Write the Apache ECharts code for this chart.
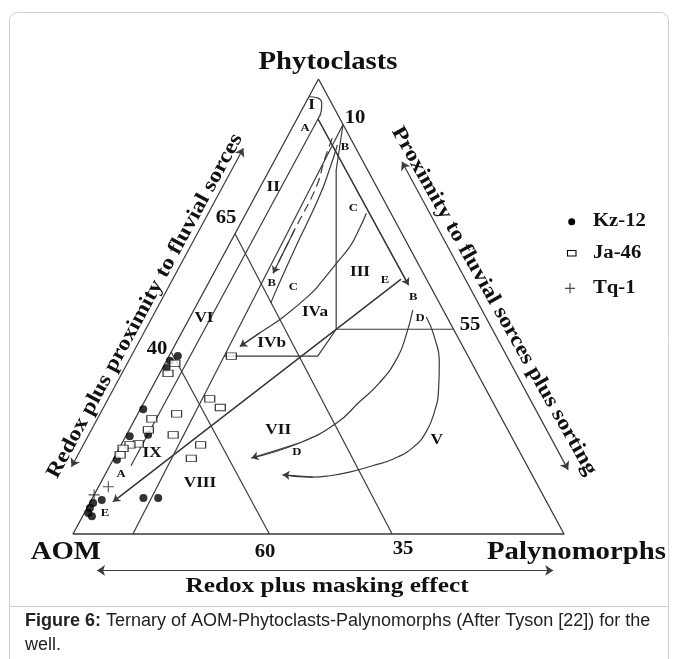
<!DOCTYPE html>
<html><head><meta charset="utf-8">
<script src="https://cdn.jsdelivr.net/npm/echarts@6/dist/echarts.min.js"></script>
<style>html,body{margin:0;padding:0;background:#fff}#c{width:678px;height:659px}</style>
</head><body><div id="c"></div>
<script>
// ---------- DATA ----------
// sample compositions [AOM, Phytoclasts, Palynomorphs] in %
const kz12 = [[59.1,39.1,1.8],[61.2,38.1,0.7],[62.7,36.5,0.8],[72.0,27.4,0.6],[77.7,21.5,0.8],[73.8,21.8,4.4],
  [82.9,16.3,0.8],[90.4,7.5,2.1],[92.5,6.8,0.7],[93.7,5.7,0.6],[94.6,4.6,0.8],[94.2,3.9,1.9],[81.7,7.9,10.4],[78.7,7.9,13.4]];
const ja46 = [[60.5,37.5,2.0],[63.0,35.3,1.7],[71.3,25.3,3.4],[73.2,22.9,3.9],[76.8,19.8,3.4],[78.6,19.6,1.8],
  [80.4,18.8,0.8],[81.7,17.4,0.9],[65.7,26.4,7.9],[68.7,21.8,9.5],[57.3,29.7,13.0],[56.1,27.8,16.1],
  [64.2,19.6,16.2],[67.6,16.6,15.8],[48.2,39.1,12.7]];
const tq1 = [[87.6,10.4,2.0],[91.4,8.6,0.0]];
const seriesNames = ['Kz-12','Ja-46','Tq-1'];

// field boundaries, as [Phytoclasts, Palynomorphs] % (AOM = remainder)
const outline = [[100,0],[0,0],[0,100],[100,0]];
const aom60 = [[40,0],[0,40]];
const aom35 = [[66,0],[0,65]];
const phy45 = [[45,55],[45,31.1]];
const vertical = [[90,10],[80,13.6],[45,31.1]];
const ivbEdge = [[45,31.1],[39.1,30.3],[39.1,11.2]];
const paly10 = [[90,10],[0,12.2]];
const lineA = [[91.2,4.3],[15.0,4.3]];
const fieldI = [[96.1,0],[95.8,2.0],[94.7,3.3],[93.2,4.0],[91.2,4.3]];
// trend arrows
const arrowB1 = [[91.2,4.3],[54.7,41.0]];
const arrowE = [[56.0,38.8],[7.1,4.6]];
const arrowC = [[70.5,24.5],[66.8,24.8],[63.1,24.8],[59.5,23.9],[55.4,22.9],[52.5,21.9],[47.6,18.9],[44.2,15.9],[41.2,13.4]];
const arrowBdash = [[87.0,9.3],[82.2,10.1],[76.3,11.4],[66.8,11.7],[57.3,12.1]];
const lineC = [[85.5,11.1],[80.0,12.2],[74.1,13.1],[63.1,13.8],[53.6,14.6],[50.8,14.9]];
const arrowD1 = [[49.2,44.6],[43.7,46.0],[38.7,46.7],[33.2,45.8],[29.0,43.8],[24.4,41.5],[20.0,36.1],[16.7,28.0]];
const arrowD2 = [[47.7,48.1],[43.5,51.8],[37.4,55.9],[31.7,58.6],[26.8,60.2],[22.4,60.7],[19.1,59.8],[16.5,57.0],
  [15.0,53.5],[13.6,49.5],[12.8,45.9],[12.5,42.6],[13.0,36.2]];
// side axis arrows (outside the triangle)
const sideLeft = [[14.8,-7.7],[84.8,-7.7]];
const sideRight = [[81.8,26.1],[14.1,93.8]];
const sideBottom = [[-8.0,8.9],[-8.0,101.8]];

// ---------- HELPERS ----------
const SERIF = '"Liberation Serif","Times New Roman",serif';
const SANS = '"Liberation Sans",Arial,sans-serif';
const INK = '#3a3a3a';
const pp = p => [p[1] + p[0] / 2, p[0]];          // [phyto, paly] -> cartesian
const tp = t => [t[2] + t[1] / 2, t[1]];          // [aom, phyto, paly] -> cartesian

function path(data, opt) {
  opt = opt || {};
  return {
    type: 'line', data: data.map(pp), showSymbol: false, symbol: 'none', smooth: !!opt.smooth,
    clip: false, silent: true, z: 2,
    lineStyle: { color: INK, width: opt.width || 1.2, type: opt.dashed ? [9, 5] : 'solid' }
  };
}
function head(data, both) {
  const n = data.length;
  return {
    type: 'lines', coordinateSystem: 'cartesian2d', silent: true, z: 3, clip: false,
    symbol: [both ? 'arrow' : 'none', 'arrow'], symbolSize: both ? 8 : 7,
    lineStyle: { color: INK, width: 1.2, opacity: 1 },
    data: [{ coords: [pp(data[n - 2]), pp(data[n - 1])] }]
  };
}

const series = [
  path(outline, { width: 1.3 }), path(aom60), path(aom35), path(phy45), path(vertical), path(ivbEdge),
  path(paly10), path(lineA), path(fieldI, { smooth: true }),
  path(arrowB1), head(arrowB1),
  path(arrowE), head(arrowE),
  path(arrowC, { smooth: true }), head(arrowC),
  path(arrowBdash, { smooth: true, dashed: true }), head(arrowBdash),
  path(lineC, { smooth: true }),
  path(arrowD1, { smooth: true }), head(arrowD1),
  path(arrowD2, { smooth: true }), head(arrowD2),
  head(sideLeft, true), head(sideRight, true), head(sideBottom, true),
  { type: 'scatter', name: seriesNames[0], data: kz12.map(tp), symbol: 'circle', symbolSize: 8,
    itemStyle: { color: '#000' }, z: 5, silent: true },
  { type: 'scatter', name: seriesNames[1], data: ja46.map(tp), symbol: 'rect', symbolSize: [10, 6.5],
    itemStyle: { color: '#fff', borderColor: '#000', borderWidth: 1 }, z: 5, silent: true },
  { type: 'scatter', name: seriesNames[2], data: tq1.map(tp),
    symbol: 'path://M4.5,0h1v4.5h4.5v1h-4.5v4.5h-1v-4.5h-4.5v-1h4.5z', symbolSize: 11,
    itemStyle: { color: '#222' }, z: 5, silent: true }
];

function txt(s, x, y, size, o) {
  o = o || {};
  return {
    type: 'text', x: x, y: y, rotation: o.rot || 0, scaleX: o.sx || 1.15, z: 10, silent: true,
    style: {
      text: s, fill: o.fill || '#111', font: (o.w || 'bold') + ' ' + size + 'px ' + (o.fam || SERIF),
      align: o.align || 'center', verticalAlign: 'middle', textAlign: o.align || 'center', textVerticalAlign: 'middle'
    }
  };
}

const g = [
  // frame
  { type: 'rect', shape: { x: 9.5, y: 12.5, width: 659, height: 700, r: 8 }, style: { fill: 'none', stroke: '#cfcfcf', lineWidth: 1 }, silent: true },
  { type: 'line', shape: { x1: 10, y1: 606.5, x2: 668, y2: 606.5 }, style: { stroke: '#cfcfcf', lineWidth: 1 }, silent: true },
  // corner labels
  txt('Phytoclasts', 328, 63, 25),
  txt('AOM', 101, 553, 25, { align: 'right' }),
  txt('Palynomorphs', 487, 553, 25, { align: 'left' }),
  txt('Redox plus masking effect', 327, 586, 22),
  txt('Redox plus proximity to fluvial sorces', 145, 306, 21, { rot: 61.5 * Math.PI / 180 }),
  txt('Proximity to fluvial sorces plus sorting', 494, 301, 21, { rot: -60.5 * Math.PI / 180 }),
  // scale numbers
  txt('10', 355, 118, 18), txt('65', 226, 218, 18), txt('40', 157, 349, 18),
  txt('55', 470, 325, 18), txt('60', 265, 552, 18), txt('35', 403, 549, 18),
  // fields
  txt('I', 311.7, 105, 15), txt('II', 273.3, 186.7, 15), txt('III', 360, 271.7, 15),
  txt('IVa', 315, 311.7, 15), txt('IVb', 271.7, 343.3, 15), txt('V', 436.7, 440, 15),
  txt('VI', 204, 318.3, 15), txt('VII', 278.3, 430, 15), txt('VIII', 200, 483.3, 15), txt('IX', 152, 453.3, 15),
  // trend letters
  txt('A', 305, 128.3, 11), txt('A', 121, 474, 11),
  txt('B', 345, 146.7, 11), txt('B', 271.7, 283.3, 11), txt('B', 413.3, 296.7, 11),
  txt('C', 353.3, 208.3, 11), txt('C', 293.3, 286.7, 11),
  txt('D', 420, 318.3, 11), txt('D', 296.7, 451.7, 11),
  txt('E', 385, 280, 11), txt('E', 105, 513.3, 11),
  // legend
  { type: 'circle', shape: { cx: 571.7, cy: 221.7, r: 3.5 }, style: { fill: '#000' }, silent: true },
  { type: 'rect', shape: { x: 567.5, y: 250.5, width: 8.5, height: 5.5 }, style: { fill: '#fff', stroke: '#000', lineWidth: 1.1 }, silent: true },
  { type: 'polyline', shape: { points: [[565, 288.3], [575, 288.3]] }, style: { stroke: '#333', lineWidth: 1.1 }, silent: true },
  { type: 'polyline', shape: { points: [[570, 283.3], [570, 293.3]] }, style: { stroke: '#333', lineWidth: 1.1 }, silent: true },
  txt(seriesNames[0], 593, 221.7, 18, { align: 'left' }),
  txt(seriesNames[1], 593, 253.3, 18, { align: 'left' }),
  txt(seriesNames[2], 593, 288.3, 18, { align: 'left' }),
  // caption
  { type: 'text', x: 25, y: 633, silent: true, style: {
      text: '{b|Figure 6:} Ternary of AOM-Phytoclasts-Palynomorphs (After Tyson [22]) for the\nwell.',
      font: '18px ' + SANS, fill: '#222', lineHeight: 24, align: 'left', verticalAlign: 'middle', textAlign: 'left', textVerticalAlign: 'middle',
      rich: { b: { font: 'bold 18px ' + SANS, fill: '#222' } } } }
];

const chart = echarts.init(document.getElementById('c'), null, { renderer: 'canvas' });
chart.setOption({
  animation: false,
  backgroundColor: '#fff',
  grid: { left: 73, top: 79, width: 491, height: 455 },
  xAxis: { type: 'value', min: 0, max: 100, show: false },
  yAxis: { type: 'value', min: 0, max: 100, show: false },
  series: series,
  graphic: g
});
</script></body></html>
